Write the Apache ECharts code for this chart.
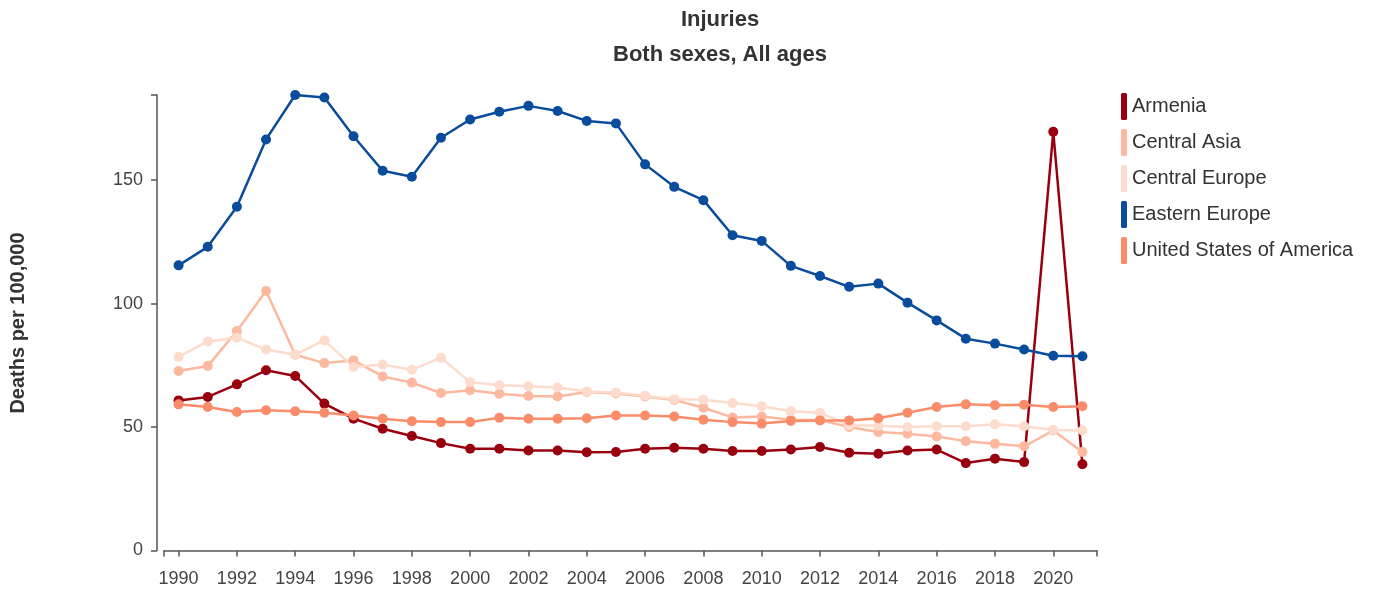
<!DOCTYPE html>
<html>
<head>
<meta charset="utf-8">
<script src="https://cdn.jsdelivr.net/npm/echarts@6/dist/echarts.min.js"></script>
<style>
html,body{margin:0;padding:0;background:#fff;}
#chart{width:1375px;height:593px;}
</style>
</head>
<body>
<div id="chart"></div>
<script>
const years = [1990,1991,1992,1993,1994,1995,1996,1997,1998,1999,2000,2001,2002,2003,2004,2005,2006,2007,2008,2009,2010,2011,2012,2013,2014,2015,2016,2017,2018,2019,2020,2021];

const armenia = [60.8,62.2,67.3,73.0,70.7,59.5,53.4,49.3,46.4,43.5,41.2,41.2,40.5,40.5,39.8,39.9,41.2,41.6,41.2,40.3,40.3,40.9,41.9,39.6,39.2,40.5,40.9,35.4,37.2,35.8,169.6,34.9];
const centralAsia = [72.7,74.7,88.9,105.1,79.3,75.9,77.0,70.5,68.0,63.8,64.9,63.5,62.6,62.4,64.2,63.6,62.4,61.0,57.8,53.9,54.3,53.0,52.8,50.0,48.0,47.3,46.2,44.3,43.2,42.2,48.6,39.9];
const centralEurope = [78.4,84.7,86.2,81.4,79.3,85.1,74.3,75.3,73.2,78.1,68.2,66.9,66.5,66.0,64.4,64.0,62.7,61.3,61.1,59.7,58.4,56.4,55.8,50.7,50.5,50.0,50.3,50.3,51.1,50.3,48.8,48.6];
const easternEurope = [115.5,123.0,139.2,166.5,184.5,183.5,167.8,153.8,151.4,167.2,174.6,177.7,180.1,178.0,174.0,173.0,156.4,147.3,141.9,127.7,125.4,115.3,111.2,106.8,108.1,100.4,93.2,85.8,83.8,81.4,78.9,78.7];
const usa = [59.2,58.1,56.1,56.8,56.4,55.8,54.7,53.4,52.4,52.0,52.0,53.8,53.4,53.4,53.6,54.7,54.7,54.3,53.0,52.0,51.4,52.5,52.7,52.7,53.6,55.8,58.1,59.2,58.8,59.0,58.1,58.4];

const seriesNames = ['Armenia','Central Asia','Central Europe','Eastern Europe','United States of America'];
const seriesValues = [armenia, centralAsia, centralEurope, easternEurope, usa];
const seriesColors = ['#99000f','#fcb9a0','#fddccd','#0a4c9c','#fb8c6a'];

const xTickLabels = [1990,1992,1994,1996,1998,2000,2002,2004,2006,2008,2010,2012,2014,2016,2018,2020];
const yTickLabels = [0,50,100,150];

const titleText = 'Injuries';
const subtitleText = 'Both sexes, All ages';
const yAxisTitle = 'Deaths per 100,000';

const xMin = years[0] - 0.5;
const xMax = years[years.length-1] + 0.5;
const yMax = Math.max(...seriesValues.map(a => Math.max(...a)));

const FONT = '"Liberation Sans", Arial, sans-serif';

const chart = echarts.init(document.getElementById('chart'), null, {renderer:'canvas'});

const series = seriesNames.map((name, i) => ({
  name: name,
  type: 'line',
  data: years.map((y, j) => [y, seriesValues[i][j]]),
  symbol: 'circle',
  symbolSize: 10,
  showSymbol: true,
  lineStyle: {color: seriesColors[i], width: 2.5},
  itemStyle: {color: seriesColors[i], borderWidth: 0},
  emphasis: {disabled: true},
  animation: false
}));

chart.setOption({
  animation: false,
  grid: {left: 164, right: 278, top: 95, bottom: 42.5},
  graphic: [
    {type:'text', x:720, y:20, style:{text:titleText, font:'bold 22px '+FONT, fill:'#333', textAlign:'center', textVerticalAlign:'middle'}},
    {type:'text', x:720, y:55, style:{text:subtitleText, font:'bold 22px '+FONT, fill:'#333', textAlign:'center', textVerticalAlign:'middle'}},
    {type:'text', x:18, y:323, rotation: Math.PI/2, style:{text:yAxisTitle, font:'bold 20px '+FONT, fill:'#333', textAlign:'center', textVerticalAlign:'middle'}}
  ],
  legend: {
    orient: 'vertical',
    left: 1121,
    top: 93,
    padding: 0,
    itemWidth: 6,
    itemHeight: 27,
    itemGap: 9,
    icon: 'roundRect',
    selectedMode: false,
    textStyle: {fontSize: 20, color: '#333', fontFamily: FONT},
    data: seriesNames
  },
  xAxis: {
    type: 'value',
    min: xMin,
    max: xMax,
    offset: 6.5,
    axisLine: {show: true, lineStyle: {color: '#555', width: 1.5}},
    axisTick: {show: true, length: 6, lineStyle: {color: '#555', width: 1.5}, customValues: [xMin].concat(xTickLabels, [xMax])},
    axisLabel: {customValues: xTickLabels, fontSize: 18, color: '#444', fontFamily: FONT, margin: 13, formatter: v => String(v)},
    splitLine: {show: false}
  },
  yAxis: {
    type: 'value',
    min: 0,
    max: yMax,
    offset: 7,
    axisLine: {show: true, lineStyle: {color: '#555', width: 1.5}},
    axisTick: {show: true, length: 6, lineStyle: {color: '#555', width: 1.5}, customValues: yTickLabels.concat([yMax])},
    axisLabel: {customValues: yTickLabels, fontSize: 18, color: '#444', fontFamily: FONT, margin: 14},
    splitLine: {show: false}
  },
  series: series
});
</script>
</body>
</html>
